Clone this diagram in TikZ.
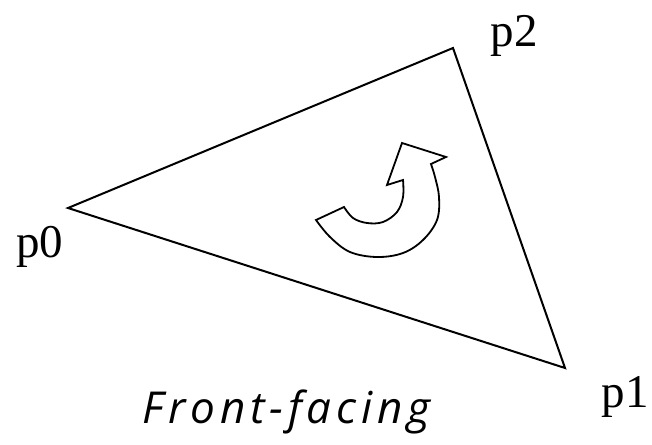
\documentclass[tikz,border=0pt]{standalone}
\usepackage{fontspec}
\setmainfont{Liberation Serif}
\newfontfamily\capfont[LetterSpace=11]{Open Sans}
\begin{document}
\begin{tikzpicture}[x=0.5pt,y=-0.5pt,
  vlabel/.style={anchor=base,inner sep=0pt,font=\fontsize{23.5}{26}\selectfont},
  edge/.style={line width=1pt,line join=miter},
  turn/.style={line width=0.9pt,line join=miter,fill=white}]
\useasboundingbox (0,0) rectangle (652,444);
\coordinate (p0) at (68,208);
\coordinate (p2) at (453,48);
\coordinate (p1) at (565,368);
\draw[edge] (p0) -- (p2) -- (p1) -- cycle;
\node[vlabel] (l0) at (40,257) {p0};
\node[vlabel] (l2) at (514,47) {p2};
\node[vlabel] (l1) at (625,407) {p1};
\draw[turn] plot[smooth,tension=0.6] coordinates {(316,220) (330,237) (350,252) (377,257) (403,253) (423,240) (437,220) (439,197) (435,177) (431,164)}
  -- (446,157) -- (402,143) -- (387,185) --
  plot[smooth,tension=0.6] coordinates {(403,180) (403,197) (397,212) (383,222) (367,223) (353,218) (344,207)} -- cycle;
\node[anchor=base west,inner sep=0pt,font=\capfont\itshape\fontsize{22}{26}\selectfont] (cap) at (142,423) {Front-facing};
\end{tikzpicture}
\end{document}
